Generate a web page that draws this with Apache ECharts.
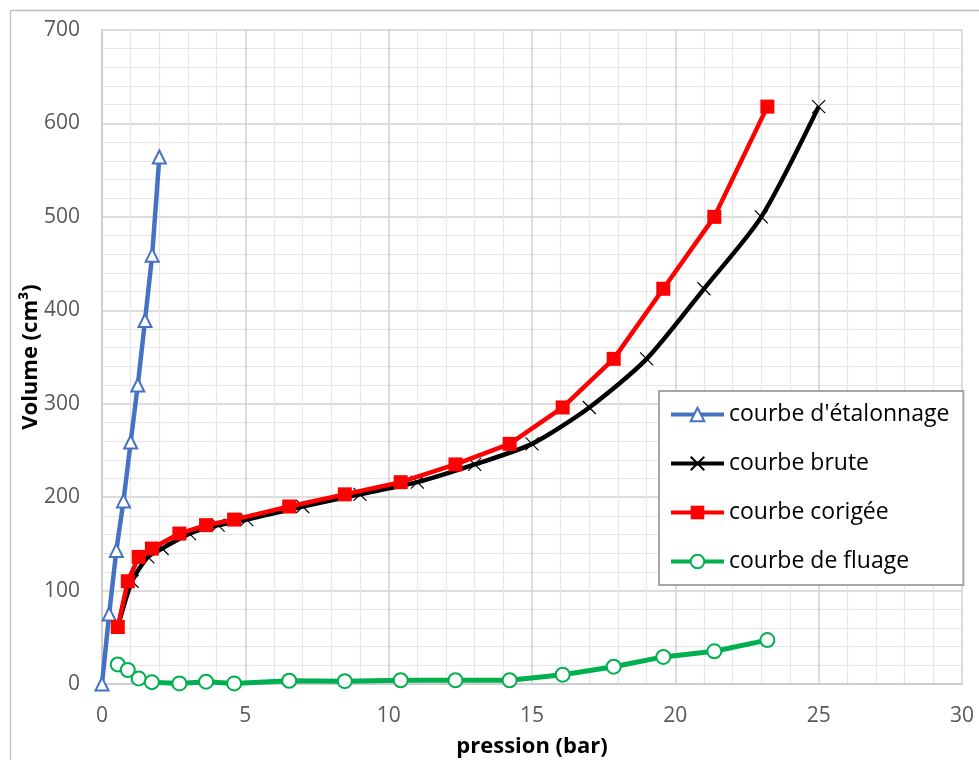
<!DOCTYPE html>
<html>
<head>
<meta charset="utf-8">
<script src="https://cdn.jsdelivr.net/npm/echarts@6/dist/echarts.min.js"></script>
<style>
  html, body { margin: 0; padding: 0; background: #ffffff; }
  #chart { width: 979px; height: 760px; }
</style>
</head>
<body>
<div id="chart"></div>
<script>
// Courbe d'étalonnage de la sonde (pression en bar, volume en cm³)
const pressionEtalonnage = [0, 0.25, 0.5, 0.75, 1.0, 1.25, 1.5, 1.75, 2.0];
const volumeEtalonnage   = [0, 75, 143, 196, 259, 320, 389, 459, 564];

// Paliers de l'essai : volumes injectés, communs aux courbes brute et corrigée
const volumeMesure = [61, 110, 136, 145, 161, 170, 176, 190, 203, 216, 235, 257, 296, 348, 423, 500, 618];

// Pressions lues au manomètre (courbe brute)
const pressionBrute = [0.55, 1.05, 1.6, 2.1, 3.05, 4.05, 5.05, 7, 9, 11, 13, 15, 17, 19, 21, 23, 25];

// Pressions corrigées de l'étalonnage (courbe corrigée et courbe de fluage)
const pressionCorrigee = [0.55, 0.9, 1.28, 1.74, 2.70, 3.63, 4.61, 6.53, 8.47, 10.42, 12.33, 14.22, 16.07, 17.85, 19.58, 21.36, 23.21];

// Fluage : différence de volume entre 30 s et 60 s à chaque palier
const volumeFluage = [21, 15, 6, 2, 0.6, 2.5, 0.6, 3.5, 3, 4, 4, 4, 10, 18.5, 29, 35, 47];

// Bornes et pas des axes
const axeX = { min: 0, max: 30, interval: 5 };
const axeY = { min: 0, max: 700, interval: 100 };

const nomsSeries = ["courbe d'étalonnage", 'courbe brute', 'courbe corigée', 'courbe de fluage'];

function paires(xs, ys) {
  return xs.map((x, i) => [x, ys[i]]);
}

const police = '"Open Sans", "Liberation Sans", sans-serif';
const gris = '#595959';

const chart = echarts.init(document.getElementById('chart'), null, { renderer: 'canvas' });

chart.setOption({
  animation: false,
  backgroundColor: '#ffffff',
  textStyle: { fontFamily: police },
  graphic: [{
    type: 'rect',
    left: 8, top: 8,
    shape: { width: 990, height: 780 },
    style: { fill: 'none', stroke: '#bfbfbf', lineWidth: 1.3 },
    silent: true,
    z: -10
  }],
  grid: { left: 102, right: 17, top: 30, bottom: 76, containLabel: false, outerBoundsMode: 'none' },
  legend: {
    orient: 'vertical',
    left: 659,
    top: 391,
    backgroundColor: '#ffffff',
    borderColor: '#a6a6a6',
    borderWidth: 2,
    padding: [12, 14, 12, 10],
    itemGap: 26,
    itemWidth: 53,
    itemHeight: 17,
    lineStyle: { width: 4 },
    textStyle: { fontFamily: police, fontSize: 23, color: '#000000' },
    data: nomsSeries
  },
  xAxis: {
    type: 'value',
    min: axeX.min, max: axeX.max, interval: axeX.interval,
    name: 'pression (bar)',
    nameLocation: 'middle',
    nameGap: 52,
    nameMoveOverlap: false,
    nameTextStyle: { fontFamily: police, fontSize: 22, fontWeight: 'bold', color: '#000000' },
    axisLine: { show: true, lineStyle: { color: '#c8c8c8', width: 1.5 } },
    axisTick: { show: false },
    axisLabel: { fontFamily: police, fontSize: 21, color: gris, margin: 22 },
    splitLine: { show: true, lineStyle: { color: '#d0d0d0', width: 1.5 } },
    minorTick: { show: false, splitNumber: 5 },
    minorSplitLine: { show: true, lineStyle: { color: '#e6e6e6', width: 1.2 } }
  },
  yAxis: {
    type: 'value',
    min: axeY.min, max: axeY.max, interval: axeY.interval,
    name: 'Volume (cm³)',
    nameLocation: 'middle',
    nameGap: 60,
    nameMoveOverlap: false,
    nameTextStyle: { fontFamily: police, fontSize: 22, fontWeight: 'bold', color: '#000000' },
    axisLine: { show: true, lineStyle: { color: '#c8c8c8', width: 1.5 } },
    axisTick: { show: false },
    axisLabel: { fontFamily: police, fontSize: 21, color: gris, margin: 22, padding: [5, 0, 0, 0] },
    splitLine: { show: true, lineStyle: { color: '#d0d0d0', width: 1.5 } },
    minorTick: { show: false, splitNumber: 5 },
    minorSplitLine: { show: true, lineStyle: { color: '#e6e6e6', width: 1.2 } }
  },
  series: [
    {
      name: nomsSeries[0],
      type: 'line',
      data: paires(pressionEtalonnage, volumeEtalonnage),
      symbol: 'emptyTriangle',
      symbolSize: 13,
      showAllSymbol: true,
      lineStyle: { color: '#4472C4', width: 4.5 },
      itemStyle: { color: '#4472C4', borderWidth: 1.3 },
      z: 2
    },
    {
      name: nomsSeries[1],
      type: 'line',
      data: paires(pressionBrute, volumeMesure),
      symbol: 'path://M0,0L10,10M10,0L0,10',
      symbolSize: 13,
      showAllSymbol: true,
      smooth: 0.25,
      lineStyle: { color: '#000000', width: 4.5 },
      itemStyle: { color: '#000000', borderColor: '#000000', borderWidth: 1.2 },
      z: 3
    },
    {
      name: nomsSeries[2],
      type: 'line',
      data: paires(pressionCorrigee, volumeMesure),
      symbol: 'rect',
      symbolSize: 14,
      showAllSymbol: true,
      lineStyle: { color: '#FF0000', width: 4.5 },
      itemStyle: { color: '#FF0000', borderWidth: 0 },
      z: 4
    },
    {
      name: nomsSeries[3],
      type: 'line',
      data: paires(pressionCorrigee, volumeFluage),
      symbol: 'emptyCircle',
      symbolSize: 14,
      showAllSymbol: true,
      lineStyle: { color: '#00B050', width: 5 },
      itemStyle: { color: '#00B050', borderWidth: 2 },
      z: 5
    }
  ]
});
</script>
</body>
</html>
